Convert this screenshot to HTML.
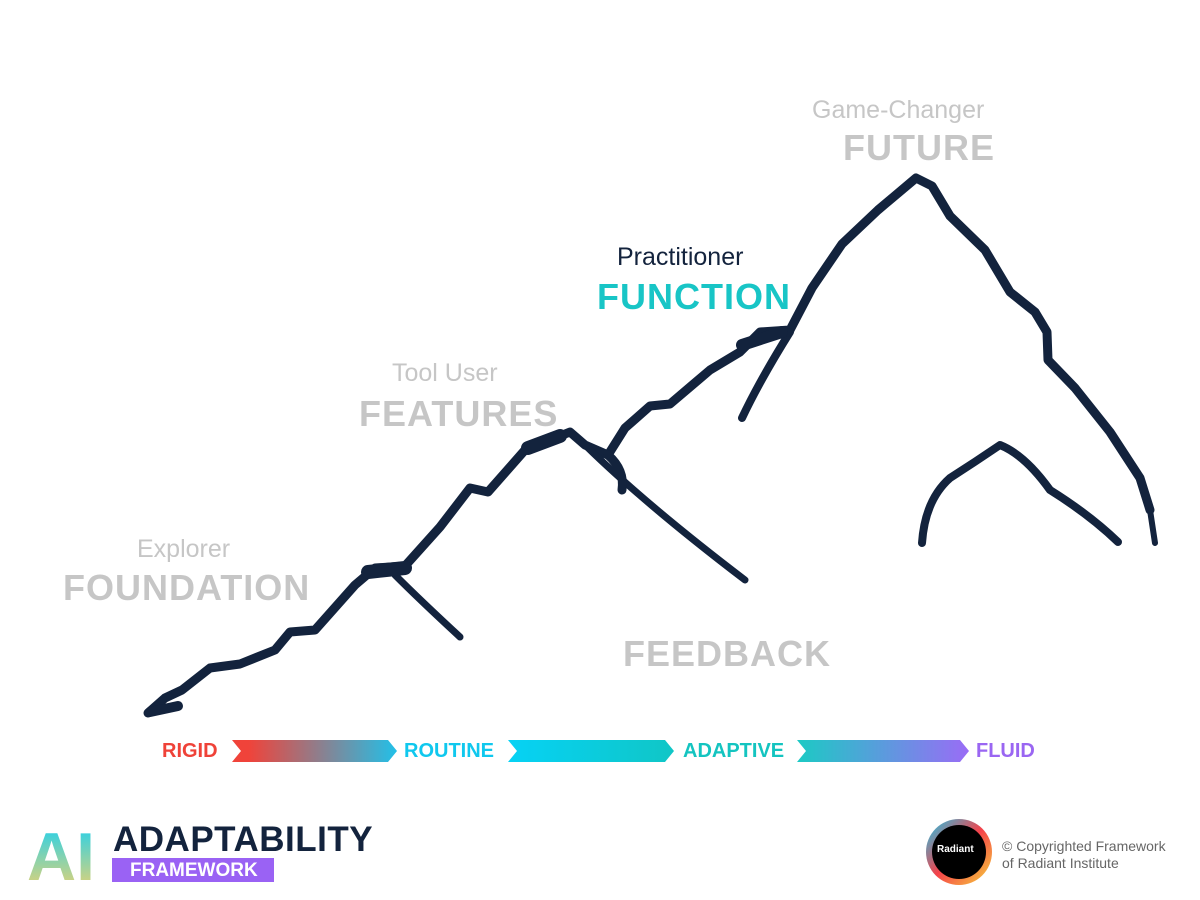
<!DOCTYPE html>
<html><head><style>
body{margin:0;width:1200px;height:900px;background:#fff;overflow:hidden;position:relative;font-family:"Liberation Sans",sans-serif}
.t{position:absolute;white-space:nowrap;color:#c6c6c6;line-height:1}
.s{font-size:25px}
.b{font-size:36px;font-weight:bold;letter-spacing:1px}
</style></head><body>
<svg width="1200" height="900" style="position:absolute;left:0;top:0">
<defs>
<linearGradient id="g1"><stop offset="0.1" stop-color="#f0433a"/><stop offset="1" stop-color="#22c0e8"/></linearGradient>
<linearGradient id="g2"><stop offset="0" stop-color="#06d2f5"/><stop offset="1" stop-color="#10c6c6"/></linearGradient>
<linearGradient id="g3"><stop offset="0" stop-color="#1ccac4"/><stop offset="1" stop-color="#9a6cf6"/></linearGradient>
<linearGradient id="ga" x1="0" y1="0" x2="0" y2="1"><stop offset="0" stop-color="#14d0f5"/><stop offset="1" stop-color="#f3d36b"/></linearGradient>
<linearGradient id="gr" x1="0" y1="0" x2="1" y2="1"><stop offset="0" stop-color="#1bc7ea"/><stop offset="0.5" stop-color="#f5424a"/><stop offset="1" stop-color="#f7d33a"/></linearGradient>
</defs>
<g fill="none" stroke="#13233d" stroke-linecap="round" stroke-linejoin="round">
<path stroke-width="9" d="M148,713 L165,698 L182,690 L210,668 L240,664 L275,650 L290,632 L315,630 L355,585 L375,568 L405,566 L440,527 L470,488 L488,492 L525,450 L550,440 L570,432 L585,445 L608,455 L625,428 L650,406 L670,404 L710,370 L740,352 L760,332 L790,330 L812,288 L842,244 L878,210 L916,178 L932,186 L950,216 L985,250 L1010,292 L1035,312 L1047,332 L1048,360 L1075,388 L1110,432 L1140,478 L1150,510"/>
<path stroke-width="6" d="M1150,510 L1155,543"/>
<path stroke-width="7" d="M395,575 Q420,600 460,637"/>
<path stroke-width="7" d="M580,440 Q640,500 745,580"/>
<path stroke-width="9" d="M608,455 Q625,470 622,490"/>
<path stroke-width="8" d="M790,332 Q760,380 742,418"/>
<path stroke-width="8" d="M922,543 Q925,500 950,478 Q975,462 1000,445 Q1025,455 1050,490 Q1090,515 1118,542"/>
<path stroke-width="14" d="M368,572 L405,568"/>
<path stroke-width="14" d="M528,448 L560,436"/>
<path stroke-width="12" d="M742,345 L782,332"/>
<path stroke-width="10" d="M150,712 L178,706"/>
</g>
<polygon points="232,740 388,740 397,751 388,762 232,762 241,751" fill="url(#g1)"/>
<polygon points="508,740 665,740 674,751 665,762 508,762 517,751" fill="url(#g2)"/>
<polygon points="797,740 960,740 969,751 960,762 797,762 806,751" fill="url(#g3)"/>
<text x="27" y="880" font-family="Liberation Sans" font-weight="bold" font-size="68" fill="url(#ga)">AI</text>
<rect x="112" y="858" width="162" height="24" fill="#9a62f4"/>
<circle cx="959" cy="852" r="33" fill="url(#gr)"/>
<circle cx="959" cy="852" r="27" fill="#000"/>
</svg>
<div class="t s" style="left:137px;top:537px">Explorer</div>
<div class="t b" style="left:63px;top:570px">FOUNDATION</div>
<div class="t s" style="left:392px;top:361px">Tool User</div>
<div class="t b" style="left:359px;top:396px">FEATURES</div>
<div class="t s" style="left:617px;top:245px;color:#13233d">Practitioner</div>
<div class="t b" style="left:597px;top:279px;color:#18c5c6">FUNCTION</div>
<div class="t s" style="left:812px;top:98px">Game-Changer</div>
<div class="t b" style="left:843px;top:130px">FUTURE</div>
<div class="t b" style="left:623px;top:636px">FEEDBACK</div>
<div class="t" style="left:162px;top:741px;font-size:20px;font-weight:bold;color:#ef4238">RIGID</div>
<div class="t" style="left:404px;top:741px;font-size:20px;font-weight:bold;color:#10c8ee">ROUTINE</div>
<div class="t" style="left:683px;top:741px;font-size:20px;font-weight:bold;color:#14c4c0">ADAPTIVE</div>
<div class="t" style="left:976px;top:741px;font-size:20px;font-weight:bold;color:#9a66f2">FLUID</div>
<div class="t" style="left:113px;top:822px;font-size:35px;color:#13233d;font-weight:bold;letter-spacing:0.5px">ADAPTABILITY</div>
<div class="t" style="left:130px;top:861px;font-size:19px;color:#fff;font-weight:bold">FRAMEWORK</div>
<div class="t" style="left:937px;top:845px;font-size:10px;color:#fff;font-weight:bold">Radiant</div>
<div class="t" style="left:1002px;top:838px;font-size:14px;color:#666;line-height:17px">© Copyrighted Framework<br>of Radiant Institute</div>
</body></html>
